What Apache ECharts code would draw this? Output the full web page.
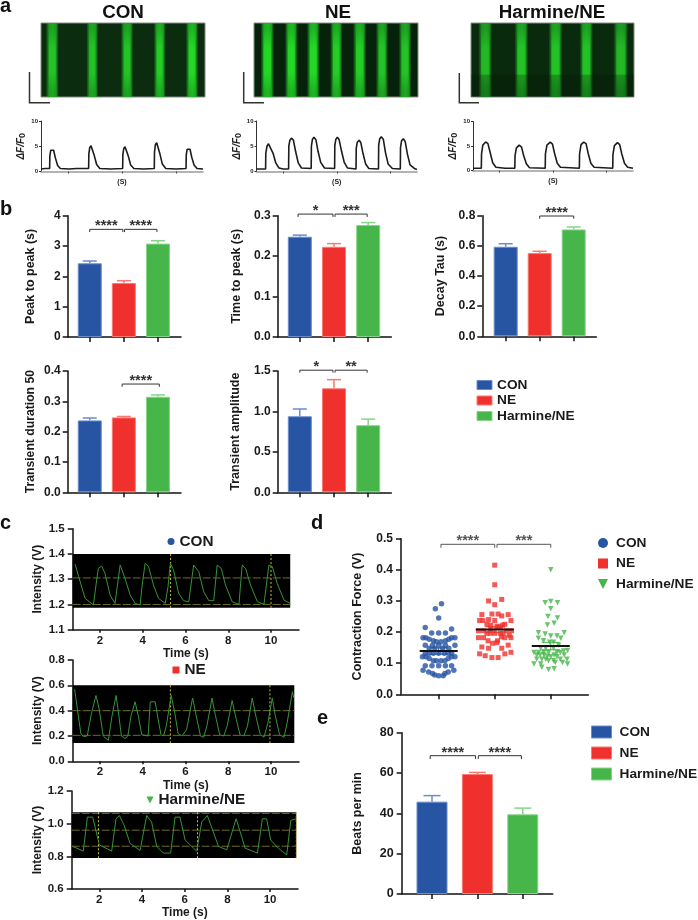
<!DOCTYPE html>
<html>
<head>
<meta charset="utf-8">
<style>html,body{margin:0;padding:0;background:#fff}#c{width:698px;height:920px}</style>
<script src="https://cdn.jsdelivr.net/npm/echarts@6/dist/echarts.min.js"></script>
</head>
<body>
<div id="c"></div>
<script>
const groupNames = ['CON', 'NE', 'Harmine/NE'];
const barColors = ['#2754a3', '#f0302c', '#46b54a'];
const barEdges = ['#6b8ccb', '#f87a72', '#86d488'];

// panel a: band centre, band width, brightness
const kymoCon = [[11.3, 8, 0.9], [51.3, 7, 0.9], [86, 7.5, 0.9], [118.7, 7, 0.95], [151, 7.5, 1]];
const kymoNe = [[13.3, 8.5, 1], [37.3, 8, 1], [59.3, 8, 1], [82.3, 7.5, 0.95], [105.7, 8.5, 0.95], [128, 7.5, 0.9], [151, 8, 0.9]];
const kymoHar = [[14.3, 9, 0.85], [50.7, 9, 0.9], [85, 9, 0.9], [116, 8.5, 0.9], [150.7, 10, 0.85]];
const kymoHarDim = [0, 0.3];

const traceCon = [[0,.5],[.4,.6],[.8,.6],[.82,3.1],[.9,4.2],[1.02,4.5],[1.17,4.2],[1.33,2.7],[1.54,1.2],[1.79,.6],[2.6,.5],[3.3,.6],[4.41,.6],[4.43,3.5],[4.51,4.7],[4.63,5.1],[4.78,4.8],[4.94,3.1],[5.15,1.4],[5.45,.6],[6.5,.5],[7.56,.6],[7.58,3.4],[7.66,4.5],[7.78,4.9],[7.93,4.6],[8.09,3.0],[8.3,1.3],[8.6,.6],[9.5,.5],[10.49,.6],[10.51,3.9],[10.59,5.3],[10.71,5.7],[10.86,5.4],[11.02,3.4],[11.23,1.5],[11.55,.6],[12.5,.5],[13.43,.6],[13.45,3.3],[13.53,4.4],[13.65,4.7],[13.8,4.4],[13.96,2.8],[14.17,1.3],[14.45,.6],[15,.5]];
const traceNe = [[0,.5],[.85,.5],[.87,3.6],[.98,5.0],[1.12,5.5],[1.3,5.2],[1.55,3.6],[1.8,1.7],[2.1,.7],[2.5,.5],[3,.5],[3.02,5.0],[3.12,6.2],[3.26,6.6],[3.45,6.2],[3.65,4.0],[3.9,1.7],[4.2,.7],[5.11,.6],[5.13,5.0],[5.23,6.4],[5.37,6.8],[5.55,6.3],[5.75,4.0],[6,1.8],[6.35,.7],[7.3,.6],[7.32,5.2],[7.42,6.4],[7.56,6.8],[7.72,6.3],[7.95,4.0],[8.2,1.8],[8.5,.7],[9.3,.5],[9.32,4.6],[9.42,5.8],[9.6,6.2],[9.75,5.7],[9.95,3.6],[10.2,1.5],[10.5,.6],[11.4,.5],[11.42,5.2],[11.52,6.5],[11.66,6.9],[11.85,6.4],[12.05,3.8],[12.3,1.5],[12.7,.6],[13.44,.5],[13.46,4.8],[13.56,6.1],[13.72,6.5],[13.9,5.9],[14.1,3.5],[14.35,1.3],[14.75,.6],[15,.4]];
const traceHar = [[0,.5],[.78,.5],[.8,3.4],[.92,5.2],[1.19,5.85],[1.4,5.5],[1.62,3.6],[1.85,1.6],[2.15,.7],[3,.5],[3.92,.5],[3.94,3.0],[4.06,4.6],[4.33,5.2],[4.55,4.8],[4.75,3.1],[5,1.4],[5.3,.6],[6.77,.5],[6.79,3.4],[6.93,5.2],[7.24,5.8],[7.45,5.4],[7.65,3.5],[7.9,1.5],[8.2,.7],[9.97,.5],[9.99,3.4],[10.13,5.3],[10.38,5.8],[10.6,5.5],[10.8,3.5],[11.05,1.5],[11.35,.7],[13.1,.5],[13.12,3.3],[13.26,5.1],[13.54,5.7],[13.75,5.3],[13.95,3.4],[14.2,1.5],[14.5,.7],[15,.5]];

// panel b values and error-bar tops
const peakToPeak = [2.43, 1.78, 3.08];
const peakToPeakTop = [2.505, 1.857, 3.175];
const timeToPeak = [0.248, 0.223, 0.277];
const timeToPeakTop = [0.252, 0.231, 0.283];
const decayTau = [0.594, 0.552, 0.709];
const decayTauTop = [0.614, 0.564, 0.725];
const duration50 = [0.237, 0.247, 0.315];
const duration50Top = [0.245, 0.25, 0.321];
const amplitude = [0.94, 1.286, 0.83];
const amplitudeTop = [1.03, 1.393, 0.905];
const beatsPerMin = [45.8, 59.5, 39.5];
const beatsPerMinTop = [48.8, 60.3, 42.6];

// brackets: from, to, level, tip length, label
const brPeak = [[1, 1.97, 3.55, 0.09, '****'], [2.02, 2.97, 3.55, 0.09, '****']];
const brTime = [[0.95, 1.97, 0.304, 0.007, '*'], [2.03, 2.97, 0.304, 0.007, '***']];
const brTau = [[2, 3, 0.798, 0.018, '****']];
const brDur = [[1.95, 3.04, 0.357, 0.009, '****']];
const brAmp = [[1, 1.97, 1.51, 0.03, '*'], [2.03, 2.97, 1.51, 0.03, '**']];
const brForce = [[1.04, 2, 0.482, 0.011, '****'], [2.04, 3, 0.482, 0.011, '***']];
const brBeats = [[0.96, 1.96, 68.6, 1.7, '****'], [2.02, 2.97, 68.6, 1.7, '****']];

// panel c
const scopeCon = [[.83,1.36],[1.0,1.31],[1.3,1.224],[1.69,1.198],[1.81,1.277],[1.92,1.343],[2.08,1.352],[2.23,1.323],[2.47,1.237],[2.7,1.204],[2.78,1.2],[2.94,1.356],[3.17,1.303],[3.41,1.237],[3.64,1.204],[3.88,1.198],[3.96,1.27],[4.11,1.363],[4.27,1.35],[4.5,1.277],[4.74,1.224],[5.05,1.204],[5.18,1.27],[5.29,1.363],[5.44,1.336],[5.68,1.244],[5.91,1.215],[6.15,1.21],[6.38,1.356],[6.62,1.33],[6.85,1.25],[7.09,1.215],[7.32,1.215],[7.48,1.356],[7.67,1.343],[7.87,1.277],[8.18,1.211],[8.5,1.2],[8.65,1.356],[8.81,1.343],[9.04,1.277],[9.36,1.211],[9.67,1.2],[9.9,1.356],[10.06,1.35],[10.29,1.283],[10.61,1.217],[10.89,1.205]];
const scopeNe = [[.81,.57],[.95,.4],[1.1,.22],[1.22,.195],[1.4,.2],[1.6,.38],[1.81,.52],[1.95,.42],[2.15,.2],[2.39,.165],[2.45,.17],[2.55,.35],[2.75,.52],[2.85,.4],[3.0,.2],[3.17,.18],[3.3,.2],[3.45,.36],[3.64,.47],[3.8,.35],[3.95,.21],[4.03,.2],[4.25,.2],[4.35,.47],[4.58,.47],[4.7,.35],[4.85,.21],[4.97,.2],[5.1,.28],[5.33,.52],[5.5,.38],[5.65,.22],[5.83,.2],[6.05,.25],[6.33,.5],[6.5,.36],[6.7,.2],[6.85,.19],[7.0,.28],[7.24,.5],[7.4,.36],[7.6,.21],[7.79,.2],[7.95,.28],[8.18,.48],[8.35,.35],[8.55,.21],[8.73,.2],[8.9,.28],[9.12,.5],[9.3,.35],[9.5,.21],[9.67,.19],[9.85,.3],[10.06,.5],[10.2,.36],[10.4,.21],[10.61,.19],[10.75,.3],[11.0,.55],[11.07,.5]];
const scopeHar = [[.75,.861],[1.25,.832],[1.44,1.04],[1.69,1.04],[2,.87],[2.58,.832],[2.78,1.03],[2.94,1.05],[3.16,.99],[3.44,.88],[3.91,.836],[4.22,1.05],[4.45,1.01],[4.69,.861],[5,.82],[5.34,.82],[5.55,1.04],[5.78,1.04],[6.02,.9],[6.56,.832],[6.8,1.01],[7.06,1.05],[7.34,.95],[7.58,.861],[7.97,.84],[8.41,1.03],[8.67,.92],[8.83,.85],[9.41,.82],[9.64,1.03],[9.84,1.03],[10.03,.9],[10.39,.85],[10.78,.808],[10.97,1.02],[11.23,1.03]];
const frameCon = [0.72, 10.9, 1.187, 1.4];
const frameNe = [0.72, 11.09, 0.145, 0.6];
const frameHar = [0.706, 11.23, 0.79, 1.07];
const guideHCon = [1.305, 1.2];
const guideVCon = [5.3, 10];
const guideHNe = [0.4, 0.205];
const guideVNe = [5.29, 9.95];
const guideHHar = [1.063, 0.96, 0.862];
const guideVHar = [1.96, 6.6, 11.23];

// panel d
const forceCon = [[1.05,.291],[.94,.275],[1,.245],[.76,.215],[1.23,.21],[.875,.197],[1,.197],[1.12,.197],[.72,.182],[.77,.182],[1.23,.182],[1.29,.182],[.83,.177],[1.18,.177],[.905,.172],[1.12,.172],[.96,.169],[1.04,.169],[.76,.158],[.89,.158],[1,.158],[1.12,.158],[1.29,.158],[.83,.148],[.93,.148],[1.07,.148],[1.18,.148],[.76,.132],[.83,.132],[.905,.132],[1,.132],[1.1,.132],[1.17,.132],[1.23,.132],[.71,.121],[.77,.121],[1.23,.121],[1.29,.121],[.83,.115],[1.17,.115],[.905,.108],[.96,.108],[1.04,.108],[1.11,.108],[.76,.092],[.88,.092],[1,.092],[1.12,.092],[1.23,.092],[.72,.077],[1.27,.077],[.82,.072],[1.17,.072],[.89,.067],[1.11,.067],[1,.06],[1.08,.06],[.93,.062]];
const forceNe = [[2,.415],[2,.352],[2.125,.305],[1.89,.3],[2,.288],[1.77,.256],[1.95,.258],[2.06,.258],[2.24,.256],[2.125,.252],[1.73,.237],[1.79,.237],[1.89,.24],[2,.237],[2.29,.237],[1.86,.225],[1.93,.222],[2.18,.225],[2.14,.222],[2.04,.219],[2.1,.217],[1.93,.21],[2.06,.215],[1.71,.204],[1.8,.204],[2.21,.204],[2.3,.204],[1.86,.196],[1.92,.196],[2,.196],[2.1,.196],[2.15,.196],[2.26,.19],[2.12,.185],[1.71,.182],[1.8,.182],[2.18,.182],[2.29,.182],[1.88,.172],[2.05,.172],[1.96,.164],[2.04,.166],[2.24,.158],[1.77,.152],[1.89,.148],[2.125,.148],[2.29,.135],[1.73,.13],[2.18,.13],[1.83,.124],[1.95,.118],[2.06,.118]];
const forceHar = [[3,.4],[3,.298],[2.9,.294],[3.12,.294],[3,.275],[2.95,.25],[3.12,.245],[2.94,.223],[3.06,.228],[2.78,.198],[3.24,.198],[2.9,.194],[3,.187],[3.11,.187],[2.78,.18],[3.18,.18],[2.87,.172],[2.98,.167],[3.05,.167],[3.14,.158],[2.82,.148],[2.91,.148],[3.05,.148],[3.23,.139],[3.3,.141],[2.7,.134],[2.78,.134],[2.87,.134],[2.96,.134],[3.11,.134],[3.17,.134],[2.75,.126],[2.81,.126],[2.88,.126],[2.94,.122],[3.06,.126],[3.24,.126],[3,.121],[3.11,.121],[2.75,.113],[2.84,.113],[2.91,.113],[3.17,.113],[3.29,.113],[2.96,.108],[3.05,.108],[3.08,.102],[3.21,.102],[2.7,.097],[2.82,.097],[3.3,.097],[2.84,.087],[2.96,.08],[3.06,.082]];
const forceMean = [0.139, 0.208, 0.155];
const forceSem = [0.01, 0.009, 0.012];

const FONT = 'Liberation Sans';
const grids = [], xAxes = [], yAxes = [], series = [];

function decimals(step) { return step >= 1 ? 0 : 1; }

function addPanel(box, xOpt, yOpt) {
  const i = grids.length;
  grids.push(Object.assign({ left: box[0], top: box[2], width: box[1] - box[0], height: box[3] - box[2] }, box[4] || {}));
  xAxes.push(Object.assign({ gridIndex: i, type: 'value', splitLine: { show: false } }, xOpt));
  yAxes.push(Object.assign({ gridIndex: i, type: 'value', splitLine: { show: false } }, yOpt));
  return i;
}

function yAxisStyled(min, max, step, name, gap, fs, nfs, margin) {
  return {
    min, max, interval: step, name, nameLocation: 'middle', nameGap: gap,
    nameTextStyle: { fontFamily: FONT, fontWeight: 'bold', fontSize: nfs, color: '#1a1a1a' },
    axisLine: { show: true, lineStyle: { color: '#111', width: 1.5 } },
    axisTick: { show: true, length: 5, lineStyle: { color: '#111', width: 1.5 } },
    axisLabel: { fontFamily: FONT, fontWeight: 'bold', fontSize: fs, color: '#1a1a1a', margin: margin,
      formatter: v => v.toFixed(decimals(step)) }
  };
}

function bracketSeries(i, list, fs, color) {
  series.push({
    type: 'custom', name: 'significance', coordinateSystem: 'cartesian2d', xAxisIndex: i, yAxisIndex: i, z: 6, silent: true,
    data: list.map(b => b.slice(0, 4)),
    renderItem(p, api) {
      const b = list[p.dataIndex];
      const a1 = api.coord([b[0], b[2] - b[3]]), a2 = api.coord([b[0], b[2]]);
      const a3 = api.coord([b[1], b[2]]), a4 = api.coord([b[1], b[2] - b[3]]);
      return { type: 'group', children: [
        { type: 'polyline', shape: { points: [a1, a2, a3, a4] }, style: { stroke: color, lineWidth: 1, fill: null } },
        { type: 'text', style: { text: b[4], x: (a2[0] + a3[0]) / 2, y: a2[1] - 3, align: 'center', verticalAlign: 'middle',
          fill: color, font: 'bold ' + fs + 'px ' + FONT } }
      ] };
    }
  });
}

function errorSeries(i, vals, tops, cap) {
  series.push({
    type: 'custom', name: 'error', coordinateSystem: 'cartesian2d', xAxisIndex: i, yAxisIndex: i, z: 4, silent: true,
    data: vals.map((v, k) => [k + 1, v, tops[k]]),
    renderItem(p, api) {
      const x = api.value(0), a = api.coord([x, api.value(1)]), b = api.coord([x, api.value(2)]);
      const st = { stroke: barEdges[p.dataIndex], lineWidth: 1.5 };
      return { type: 'group', children: [
        { type: 'line', shape: { x1: a[0], y1: a[1], x2: b[0], y2: b[1] }, style: st },
        { type: 'line', shape: { x1: a[0] - cap / 2, y1: b[1], x2: a[0] + cap / 2, y2: b[1] }, style: st }
      ] };
    }
  });
}

function barPanel(box, xr, yr, step, vals, tops, br, name, gap, barW, cap, fs, nfs, sfs, margin) {
  const i = addPanel(box, {
    min: xr[0], max: xr[1],
    axisLine: { show: true, onZero: false, lineStyle: { color: '#111', width: 1.5 } },
    axisTick: { show: true, length: 5, customValues: [1, 2, 3], lineStyle: { color: '#111', width: 1.5 } },
    axisLabel: { show: false }
  }, yAxisStyled(yr[0], yr[1], step, name, gap, fs, nfs, margin));
  groupNames.forEach((g, k) => series.push({
    type: 'bar', name: g, xAxisIndex: i, yAxisIndex: i, barWidth: barW, barGap: '-100%', z: 3, silent: true,
    itemStyle: { color: barColors[k], borderColor: barEdges[k], borderWidth: 1 },
    data: [[k + 1, vals[k]]]
  }));
  errorSeries(i, vals, tops, cap);
  bracketSeries(i, br, sfs, '#333');
}

function tracePanel(box, data, name, nameGap) {
  const i = addPanel(box, {
    min: 0, max: 15,
    axisLine: { show: true, onZero: false, lineStyle: { color: '#9a9a9a', width: 1.5 } },
    axisTick: { show: true, length: 2, customValues: [2.5, 7.5, 12.5], lineStyle: { color: '#444', width: 1 } },
    axisLabel: { show: false },
    name: '(S)', nameLocation: 'middle', nameGap: 7,
    nameTextStyle: { fontFamily: FONT, fontWeight: 'bold', fontSize: 7, color: '#222' }
  }, {
    min: 0, max: 10, interval: 5, name: '{i|\u0394F/F}{s|0}', nameLocation: 'middle', nameGap,
    nameTextStyle: { color: '#222', rich: { i: { fontFamily: FONT, fontStyle: 'italic', fontWeight: 'bold', fontSize: 10, color: '#222' },
      s: { fontFamily: FONT, fontWeight: 'bold', fontSize: 9, color: '#222', padding: [3, 0, 0, 0] } } },
    axisLine: { show: true, lineStyle: { color: '#333', width: 1 } },
    axisTick: { show: true, length: 2, lineStyle: { color: '#333', width: 1 } },
    axisLabel: { fontFamily: FONT, fontWeight: 'bold', fontSize: 6, color: '#222', margin: 3 }
  });
  series.push({ type: 'line', name: name + ' trace', xAxisIndex: i, yAxisIndex: i, data, showSymbol: false, silent: true,
    lineStyle: { color: '#1c1c1c', width: 1.6 } });
}

function kymoPanel(box, bands, bg, dim) {
  const i = addPanel(box.concat([{ show: true, backgroundColor: bg, borderColor: '#7f8f7f', borderWidth: 1 }]),
    { min: 0, max: 164, show: false }, { min: 0, max: 1, show: false });
  series.push({
    type: 'custom', name: 'kymograph', coordinateSystem: 'cartesian2d', xAxisIndex: i, yAxisIndex: i, silent: true,
    data: bands,
    renderItem(p, api) {
      const c = api.value(0), w = api.value(1), k = api.value(2);
      const a = api.coord([c - w / 2 - 2.5, 1]), b = api.coord([c + w / 2 + 2.5, 0]);
      const a2 = api.coord([c - w / 2 + 0.5, 0.92]), b2 = api.coord([c + w / 2 - 0.5, 0.08]);
      const base = 'rgba(30,' + Math.round(185 * k) + ',35,';
      const core = 'rgba(40,' + Math.round(240 * k) + ',40,';
      return { type: 'group', children: [
        { type: 'rect', shape: { x: a[0], y: a[1], width: b[0] - a[0], height: b[1] - a[1] }, style: {
          fill: new echarts.graphic.LinearGradient(0, 0, 1, 0, [
            { offset: 0, color: base + '0)' }, { offset: .25, color: base + '.9)' }, { offset: .55, color: base + '1)' }, { offset: .8, color: base + '.85)' }, { offset: 1, color: base + '0)' }]) } },
        { type: 'rect', shape: { x: a2[0], y: a2[1], width: b2[0] - a2[0], height: b2[1] - a2[1] }, style: {
          fill: new echarts.graphic.LinearGradient(0, 0, 0, 1, [
            { offset: 0, color: core + '0)' }, { offset: .3, color: core + '.6)' }, { offset: .7, color: core + '.6)' }, { offset: 1, color: core + '0)' }]) } }
      ] };
    }
  });
  if (dim) {
    series.push({
      type: 'custom', name: 'kymograph shade', coordinateSystem: 'cartesian2d', xAxisIndex: i, yAxisIndex: i, z: 3, silent: true,
      data: [dim],
      renderItem(p, api) {
        const a = api.coord([0, dim[1]]), b = api.coord([164, dim[0]]);
        return { type: 'rect', shape: { x: a[0], y: a[1], width: b[0] - a[0], height: b[1] - a[1] }, style: { fill: 'rgba(0,15,0,0.22)' } };
      }
    });
  }
}

function scopePanel(box, xr, yr, step, trace, frame, gh, gv, gap, xGap) {
  const i = addPanel(box, {
    min: xr[0], max: xr[1],
    name: 'Time (s)', nameLocation: 'middle', nameGap: xGap,
    nameTextStyle: { fontFamily: FONT, fontWeight: 'bold', fontSize: 12, color: '#1a1a1a' },
    axisLine: { show: true, onZero: false, lineStyle: { color: '#111', width: 1.5 } },
    axisTick: { show: true, length: 3, customValues: [2, 4, 6, 8, 10], lineStyle: { color: '#111', width: 1.5 } },
    axisLabel: { customValues: [2, 4, 6, 8, 10], fontFamily: FONT, fontWeight: 'bold', fontSize: 11.5, color: '#1a1a1a', margin: 5 }
  }, yAxisStyled(yr[0], yr[1], step, 'Intensity (V)', gap, 11.5, 12, 8));
  series.push({
    type: 'custom', name: 'scope frame', coordinateSystem: 'cartesian2d', xAxisIndex: i, yAxisIndex: i, z: 1, silent: true,
    data: [frame],
    renderItem(p, api) {
      const a = api.coord([frame[0], frame[3]]), b = api.coord([frame[1], frame[2]]);
      return { type: 'rect', shape: { x: a[0], y: a[1], width: b[0] - a[0], height: b[1] - a[1] }, style: { fill: '#000' } };
    }
  });
  series.push({
    type: 'custom', name: 'scope level', coordinateSystem: 'cartesian2d', xAxisIndex: i, yAxisIndex: i, z: 2, silent: true,
    data: gh.map(v => [v]),
    renderItem(p, api) {
      const a = api.coord([frame[0], api.value(0)]), b = api.coord([frame[1], api.value(0)]);
      return { type: 'line', shape: { x1: a[0], y1: a[1], x2: b[0], y2: b[1] }, style: { stroke: '#6f6c28', lineWidth: 1, lineDash: [8, 2] } };
    }
  });
  series.push({
    type: 'custom', name: 'scope cursor', coordinateSystem: 'cartesian2d', xAxisIndex: i, yAxisIndex: i, z: 2, silent: true,
    data: gv.map(v => [v]),
    renderItem(p, api) {
      const a = api.coord([api.value(0), frame[3]]), b = api.coord([api.value(0), frame[2]]);
      return { type: 'line', shape: { x1: a[0], y1: a[1], x2: b[0], y2: b[1] }, style: { stroke: '#c9c13a', lineWidth: 1, lineDash: [2, 2] } };
    }
  });
  series.push({ type: 'line', name: 'scope trace', xAxisIndex: i, yAxisIndex: i, data: trace, showSymbol: false, silent: true, z: 3,
    lineStyle: { color: '#369436', width: 1 } });
}

// panel a
kymoPanel([41, 205, 23, 97], kymoCon, '#0c2c10');
kymoPanel([254, 418, 23, 97], kymoNe, '#06220a');
kymoPanel([471, 634, 23, 97], kymoHar, '#0a2a0e', kymoHarDim);
tracePanel([41, 203, 121, 171.5], traceCon, 'CON', 11);
tracePanel([256.5, 417, 121, 171.5], traceNe, 'NE', 11);
tracePanel([473, 633, 121.5, 170.7], traceHar, 'Harmine/NE', 13);

// panel b
const xrA = [0.353, 3.676], xrB = [0.312, 3.665];
barPanel([67.7, 181, 215.7, 337], xrA, [0, 4], 1, peakToPeak, peakToPeakTop, brPeak, 'Peak to peak (s)', 31, 24, 14, 12, 12.5, 14.5, 7);
barPanel([277.7, 391.3, 215.7, 337], xrA, [0, 0.3], 0.1, timeToPeak, timeToPeakTop, brTime, 'Time to peak (s)', 35, 24, 14, 12, 12.5, 14.5, 7);
barPanel([482.3, 596.3, 215.7, 336.3], xrB, [0, 0.8], 0.2, decayTau, decayTauTop, brTau, 'Decay Tau (s)', 35, 24, 14, 12, 12.5, 14.5, 7);
barPanel([67.7, 181, 371, 492.3], xrA, [0, 0.4], 0.1, duration50, duration50Top, brDur, 'Transient duration 50', 31, 24, 14, 12, 12.2, 14.5, 7);
barPanel([277.7, 391.3, 371, 492.3], xrA, [0, 1.5], 0.5, amplitude, amplitudeTop, brAmp, 'Transient amplitude', 36, 24, 14, 12, 12.5, 14.5, 7);

// panel c
scopePanel([72.7, 299, 528.7, 629.7], [0.72, 11.31], [1.1, 1.5], 0.1, scopeCon, frameCon, guideHCon, guideVCon, 29, 15);
scopePanel([72.7, 299, 660, 761.3], [0.72, 11.31], [0, 0.8], 0.2, scopeNe, frameNe, guideHNe, guideVNe, 29, 15);
scopePanel([71.7, 298, 791, 892.7], [0.706, 11.31], [0.6, 1.2], 0.2, scopeHar, frameHar, guideHHar, guideVHar, 28, 18);

// panel d
const di = addPanel([401, 588.3, 538.7, 694.3], {
  min: 0.327, max: 3.67,
  axisLine: { show: true, onZero: false, lineStyle: { color: '#111', width: 1.5 } },
  axisTick: { show: true, length: 5, customValues: [1, 2, 3], lineStyle: { color: '#111', width: 1.5 } },
  axisLabel: { show: false }
}, yAxisStyled(0, 0.5, 0.1, 'Contraction Force (V)', 37, 12, 12.5, 8));
[forceCon, forceNe, forceHar].forEach((d, k) => series.push({
  type: 'scatter', name: groupNames[k], xAxisIndex: di, yAxisIndex: di, silent: true, z: 3,
  symbol: ['circle', 'rect', 'path://M0 0L10 0L5 10Z'][k], symbolSize: [5.5, 5, 5.5][k],
  itemStyle: { color: barColors[k] }, data: d
}));
series.push({
  type: 'custom', name: 'mean', coordinateSystem: 'cartesian2d', xAxisIndex: di, yAxisIndex: di, z: 5, silent: true,
  data: forceMean.map((m, k) => [k + 1, m, forceSem[k]]),
  renderItem(p, api) {
    const x = api.value(0), m = api.value(1), s = api.value(2);
    const hl = (v, half, stroke, lw) => { const c = api.coord([x, v]); return { type: 'line', shape: { x1: c[0] - half, y1: c[1], x2: c[0] + half, y2: c[1] }, style: { stroke, lineWidth: lw } }; };
    const t = api.coord([x, m + s]), b = api.coord([x, m - s]);
    return { type: 'group', children: [
      hl(m + s, 9, barColors[p.dataIndex], 1), hl(m - s, 9, barColors[p.dataIndex], 1),
      { type: 'line', shape: { x1: t[0], y1: t[1], x2: b[0], y2: b[1] }, style: { stroke: barColors[p.dataIndex], lineWidth: 1 } },
      hl(m, 19, '#111', 2)
    ] };
  }
});
bracketSeries(di, brForce, 14.5, '#555');

// panel e
barPanel([401.7, 552.7, 732.7, 894], [0.332, 3.66], [0, 80], 20, beatsPerMin, beatsPerMinTop, brBeats, 'Beats per min', 38, 31, 17, 12.5, 12.5, 14.5, 8);

const SYMBOL_COLOR = { 'CON': 0, 'NE': 1, 'Harmine/NE': 2 };
function legendOf(left, top, names, icons, w, h, gap, fs, pad, edged) {
  return {
    left, top, orient: 'vertical', selectedMode: false, itemWidth: w, itemHeight: h, itemGap: gap, padding: 0,
    textStyle: { fontFamily: FONT, fontWeight: 'bold', fontSize: fs, color: '#1a1a1a', padding: [0, 0, 0, pad] },
    data: names.map((n, i) => ({ name: n, icon: icons[i], itemStyle: {
      color: barColors[SYMBOL_COLOR[n]],
      borderColor: barEdges[SYMBOL_COLOR[n]],
      borderWidth: edged ? 1 : 0
    } }))
  };
}
const TRI = 'path://M0 0L10 0L5 10Z';
const legends = [
  legendOf(476.5, 378, groupNames, ['rect', 'rect', 'rect'], 15, 9, 1.5, 13.7, 0, true),
  legendOf(598, 536, groupNames, ['circle', 'rect', TRI], 10, 10, 6.5, 13.7, 3, false),
  legendOf(591, 725, groupNames, ['rect', 'rect', 'rect'], 20, 12, 7, 13.7, 3, true),
  legendOf(167.5, 534, ['CON'], ['circle'], 7, 7, 0, 15.3, 0, false),
  legendOf(172.5, 662.5, ['NE'], ['rect'], 7, 7, 0, 15.3, 0, false),
  legendOf(146.5, 792.5, ['Harmine/NE'], [TRI], 7, 7, 0, 15.3, 0, false)
];

const letter = (t, x, y) => ({ type: 'text', left: x, top: y, silent: true, style: { text: t, font: 'bold 20px ' + FONT, fill: '#111' } });
const heading = (t, cx, y) => ({ type: 'text', x: cx, y, silent: true, style: { text: t, align: 'center', verticalAlign: 'middle', font: 'bold 18.8px ' + FONT, fill: '#111' } });
const scaleBar = (x, y1, y2, x2) => ({ type: 'polyline', silent: true, shape: { points: [[x, y1], [x, y2], [x2, y2]] }, style: { stroke: '#333', lineWidth: 1.5, fill: null } });

const chart = echarts.init(document.getElementById('c'), null, { renderer: 'canvas' });
chart.setOption({
  animation: false,
  backgroundColor: '#fff',
  textStyle: { fontFamily: FONT },
  tooltip: { show: false },
  grid: grids, xAxis: xAxes, yAxis: yAxes, series, legend: legends,
  graphic: { elements: [
    letter('a', 0, -4), letter('b', 0, 199), letter('c', 0, 513), letter('d', 311, 513), letter('e', 317, 708),
    heading('CON', 123, 13), heading('NE', 338, 13), heading('Harmine/NE', 552, 13),
    scaleBar(29.5, 72, 102.7, 50), scaleBar(243.7, 72, 102.7, 264), scaleBar(459.3, 73, 102.7, 479)
  ] }
});
</script>
</body>
</html>
